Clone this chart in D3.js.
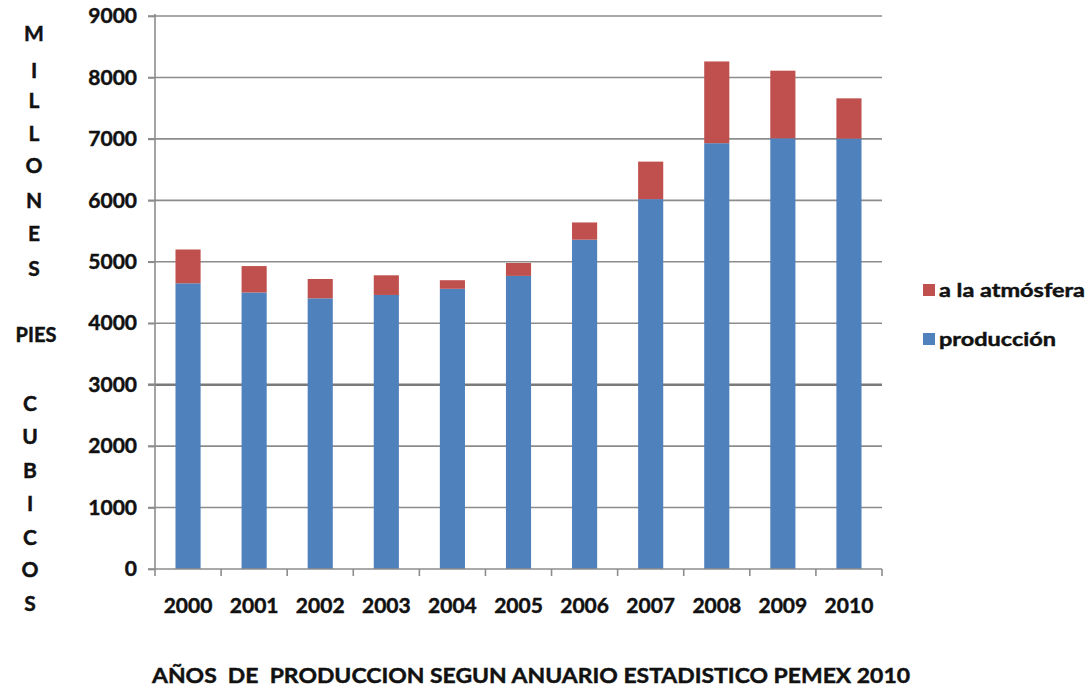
<!DOCTYPE html>
<html><head><meta charset="utf-8">
<script src="https://cdn.jsdelivr.net/npm/d3@7"></script>
<style>
body{margin:0;background:#fff;}
svg{display:block;}
text{font-family:Lato,"Open Sans",sans-serif;font-weight:bold;fill:#111;stroke:#111;stroke-width:0.45px;}
</style></head>
<body><svg id="c" width="1089" height="688"></svg>
<script>
const years = ["2000","2001","2002","2003","2004","2005","2006","2007","2008","2009","2010"];
const produccion = [4650,4500,4405,4460,4560,4770,5360,6020,6930,7010,7005];
const atmosfera = [550,430,315,320,140,210,280,610,1330,1100,655];
const yTicks = [0,1000,2000,3000,4000,5000,6000,7000,8000,9000];
const seriesNames = ["producción","a la atmósfera"];
const colors = ["#4F81BD","#C0504D"];
const yLetters1 = ["M","I","L","L","O","N","E","S"];
const yLetters2 = ["C","U","B","I","C","O","S"];
const xTitle = "AÑOS  DE  PRODUCCION SEGUN ANUARIO ESTADISTICO PEMEX 2010";

const svg = d3.select("#c");
const L = 155, R = 882, T = 16, B = 569;
const x = d3.scaleBand().domain(years).range([L, R]).paddingInner(0.62).paddingOuter(0.31);
const y = d3.scaleLinear().domain([0, 9000]).range([B, T]);

// gridlines
svg.append("g").selectAll("line").data(yTicks.filter(d => d > 0)).join("line")
  .attr("x1", L - 7).attr("x2", R).attr("y1", d => y(d)).attr("y2", d => y(d))
  .attr("stroke", d => d === 3000 ? "#7a7a7a" : "#8c8c8c")
  .attr("stroke-width", d => d === 3000 ? 2.5 : 1.6);

// bars
const data = years.map((yr, i) => ({year: yr, produccion: produccion[i], atmosfera: atmosfera[i]}));
const stack = d3.stack().keys(["produccion","atmosfera"])(data);
svg.append("g").selectAll("g").data(stack).join("g")
  .attr("fill", (d, i) => colors[i])
  .selectAll("rect").data(d => d).join("rect")
  .attr("x", d => x(d.data.year)).attr("width", x.bandwidth())
  .attr("y", d => y(d[1])).attr("height", d => y(d[0]) - y(d[1]));

// y axis
const ya = svg.append("g").attr("transform", `translate(${L},0)`)
  .call(d3.axisLeft(y).tickValues(yTicks).tickSize(7).tickPadding(11).tickFormat(d3.format("d")));
ya.select(".domain").attr("stroke", "#8c8c8c").attr("stroke-width", 1.6).attr("d", `M0,${T-2}V${B}`);
ya.selectAll(".tick line").attr("stroke", "#8c8c8c").attr("stroke-width", 1.6);
ya.selectAll(".tick text").attr("font-size", 21).attr("fill", "#111")
  .attr("font-family", "Lato").attr("font-weight", "bold");

// x axis
const xa = svg.append("g").attr("transform", `translate(0,${B})`)
  .call(d3.axisBottom(x).tickSize(0).tickPadding(29));
xa.select(".domain").remove();
xa.append("line").attr("x1", L - 7).attr("x2", R).attr("stroke", "#8c8c8c").attr("stroke-width", 1.6);
const step = (R - L) / years.length;
xa.selectAll(".sep").data(d3.range(years.length + 1)).join("line")
  .attr("x1", i => L + i * step).attr("x2", i => L + i * step)
  .attr("y1", 0).attr("y2", 7).attr("stroke", "#8c8c8c").attr("stroke-width", 1.6);
xa.selectAll(".tick text").attr("font-size", 21).attr("fill", "#111")
  .attr("font-family", "Lato").attr("font-weight", "bold");

// y title letters
const pos1 = [33,70,100,133,165,200,233,268];
svg.append("g").selectAll("text").data(yLetters1).join("text")
  .attr("x", 34).attr("y", (d, i) => pos1[i]).attr("dy", "0.36em")
  .attr("text-anchor", "middle").attr("font-size", 21).text(d => d);
svg.append("text").attr("x", 36).attr("y", 335).attr("dy", "0.36em")
  .attr("text-anchor", "middle").attr("font-size", 20).text("PIES");
const pos2 = [403,436,470,503,537,569,603];
svg.append("g").selectAll("text").data(yLetters2).join("text")
  .attr("x", 30).attr("y", (d, i) => pos2[i]).attr("dy", "0.36em")
  .attr("text-anchor", "middle").attr("font-size", 21).text(d => d);

// legend
const leg = [{name: seriesNames[1], color: colors[1], y: 290}, {name: seriesNames[0], color: colors[0], y: 339}];
const lg = svg.append("g").selectAll("g").data(leg).join("g");
lg.append("rect").attr("x", 923).attr("y", d => d.y - 6).attr("width", 12).attr("height", 12).attr("fill", d => d.color);
lg.append("text").attr("x", 939).attr("y", d => d.y).attr("dy", "0.36em").attr("font-size", 19)
  .attr("textLength", (d, i) => i === 0 ? 146 : 117).attr("lengthAdjust", "spacingAndGlyphs").text(d => d.name);

// x title
svg.append("text").attr("x", 152).attr("y", 675).attr("dy", "0.36em").attr("font-size", 21)
  .attr("textLength", 758).attr("lengthAdjust", "spacingAndGlyphs")
  .style("white-space", "pre").text(xTitle);
</script></body></html>
